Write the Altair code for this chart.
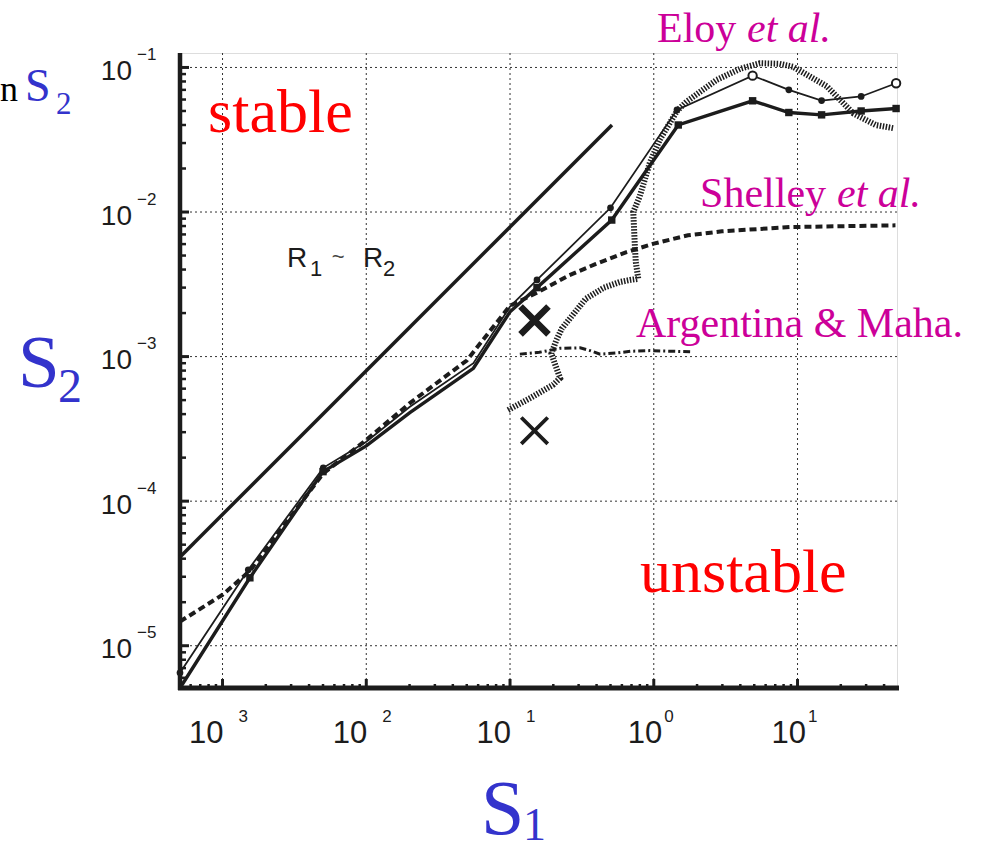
import altair as alt
import pandas as pd

# ---------------- axes / domain ----------------
XMIN, XMAX = 5.06e-4, 49.2
YMIN, YMAX = 5.1e-6, 0.1259
W, H = 717, 635

x_major = [1e-3, 1e-2, 1e-1, 1e0, 1e1]
y_major = [1e-5, 1e-4, 1e-3, 1e-2, 1e-1]
x_minor = [m * 10.0 ** e for e in range(-4, 2) for m in range(2, 10)]
x_minor = [v for v in x_minor if XMIN <= v <= XMAX]
y_minor = [m * 10.0 ** e for e in range(-6, 0) for m in range(2, 10)]
y_minor = [v for v in y_minor if YMIN <= v <= YMAX]

x_lab_base = ["10", "10", "10", "10", "10"]
x_lab_exp = ["3", "2", "1", "0", "1"]
x_lab_neg = [True, True, True, False, False]
y_lab_exp = ["\u22125", "\u22124", "\u22123", "\u22122", "\u22121"]

# ---------------- series ----------------
# R1 ~ R2 reference line
r_x = [5.06e-4, 0.512]
r_y = [4.11e-5, 0.040]

# solid thin line (upper), circles
a_x = [5.06e-4, 1.51e-3, 5.02e-3, 0.01, 0.0201, 0.0556, 0.1, 0.154, 0.5, 1.45, 4.87, 8.7, 14.7, 27.7, 48.5]
a_y = [6.5e-6, 3.35e-5, 1.70e-4, 2.58e-4, 4.5e-4, 9.0e-4, 2.22e-3, 3.39e-3, 0.0107, 0.0509, 0.0878, 0.070, 0.059, 0.063, 0.0778]
a_mark = [1, 1, 1, 0, 0, 0, 0, 1, 1, 1, 2, 1, 1, 1, 2]   # 1 filled, 2 open

# solid thick line (lower), squares
b_x = [5.06e-4, 1.55e-3, 5.0e-3, 0.01, 0.0201, 0.0556, 0.1, 0.154, 0.51, 1.48, 4.87, 8.7, 14.7, 27.7, 48.5]
b_y = [5.1e-6, 2.95e-5, 1.6e-4, 2.41e-4, 4.1e-4, 8.3e-4, 2.04e-3, 3.0e-3, 8.8e-3, 0.040, 0.0588, 0.0488, 0.047, 0.050, 0.052]
b_mark = [0, 1, 1, 0, 0, 0, 0, 1, 1, 1, 1, 1, 1, 1, 1]

# Shelley et al. (dashed)
s_x = [5.06e-4, 1.0e-3, 1.55e-3, 5e-3, 0.01, 0.02, 0.05, 0.1, 0.113, 0.156, 0.256, 0.396, 0.646, 1.0, 1.73, 2.98, 8.87, 48.0]
s_y = [1.47e-5, 2.25e-5, 3.3e-5, 1.55e-4, 2.65e-4, 4.75e-4, 9.4e-4, 2.25e-3, 2.38e-3, 2.79e-3, 3.64e-3, 4.38e-3, 5.28e-3, 6.04e-3, 6.9e-3, 7.35e-3, 7.87e-3, 8.09e-3]

# Eloy et al. (thick dotted), a path ordered along the curve
e_x = [0.0969, 0.14, 0.2, 0.223, 0.206, 0.194, 0.21, 0.229, 0.336, 0.45, 0.58, 0.684, 0.78, 0.75, 0.74, 0.72, 0.8, 0.94, 1.1, 1.45, 1.69, 2.73, 4.0, 5.48, 7.5, 9.35, 16.0, 24.5, 35.0, 46.5]
e_y = [4.27e-4, 5.2e-4, 6.4e-4, 7.1e-4, 8.8e-4, 1.05e-3, 1.3e-3, 1.56e-3, 2.51e-3, 3.0e-3, 3.28e-3, 3.39e-3, 3.45e-3, 4.5e-3, 5.6e-3, 0.01, 0.0129, 0.022, 0.0316, 0.05, 0.058, 0.082, 0.098, 0.107, 0.106, 0.101, 0.074, 0.048, 0.040, 0.038]

# Argentina & Mahadevan (dash-dot)
g_x = [0.117, 0.16, 0.223, 0.307, 0.36, 0.423, 0.55, 0.7, 0.94, 1.3, 1.79]
g_y = [1.04e-3, 1.07e-3, 1.14e-3, 1.15e-3, 1.10e-3, 1.04e-3, 1.06e-3, 1.09e-3, 1.10e-3, 1.09e-3, 1.08e-3]

# crosses
xb_x, xb_y = [0.148], [1.78e-3]
xs_x, xs_y = [0.148], [3.07e-4]

# annotations (data coordinates, left/baseline anchored)
ann_red_text = ["stable", "unstable"]
ann_red_x = [7.93e-4, 0.802]
ann_red_y = [0.0358, 2.353e-5]

ann_mag_text = ["Eloy", "Shelley", "Argentina & Maha."]
ann_mag_x = [1.053, 2.098, 0.752]
ann_mag_y = [0.150, 0.01083, 1.366e-3]
ann_it_text = ["et al.", "et al."]
ann_it_x = [4.455, 18.83]
ann_it_y = [0.150, 0.01083]

rr_big_text = ["R", "R"]
rr_big_x = [2.81e-3, 9.49e-3]
rr_big_y = [4.166e-3, 4.166e-3]
rr_sub_text = ["1", "2"]
rr_sub_x = [4.06e-3, 0.01307]
rr_sub_y = [3.61e-3, 3.61e-3]
rr_tilde_x, rr_tilde_y = [5.75e-3], [4.35e-3]

# ---------------- helpers ----------------
xs = alt.Scale(type="log", domain=[XMIN, XMAX], nice=False)
ys = alt.Scale(type="log", domain=[YMIN, YMAX], nice=False)


def X():
    return alt.X("x:Q", scale=xs, axis=None)


def Y():
    return alt.Y("y:Q", scale=ys, axis=None)


def df_xy(x, y, **extra):
    d = pd.DataFrame({"x": x, "y": y})
    for k, v in extra.items():
        d[k] = v
    d["i"] = range(len(d))
    return d


one = pd.DataFrame({"k": [0]})
INK = "#1c1c1c"
MAG = "#CC0099"
SANS = "Liberation Sans, Arial, Helvetica, sans-serif"
SERIF = "Liberation Serif, Times New Roman, serif"

layers = []

# grid
layers.append(alt.Chart(pd.DataFrame({"x": x_major})).mark_rule(
    color="#333333", strokeWidth=1, strokeDash=[2, 3]).encode(
    x=X(), y=alt.value(0), y2=alt.value(H)))
layers.append(alt.Chart(pd.DataFrame({"y": y_major})).mark_rule(
    color="#333333", strokeWidth=1, strokeDash=[2, 3]).encode(
    y=Y(), x=alt.value(0), x2=alt.value(W + 1)))

# ticks (inward)
layers.append(alt.Chart(pd.DataFrame({"y": y_major})).mark_rule(color=INK, strokeWidth=3).encode(
    y=Y(), x=alt.value(0), x2=alt.value(9)))
layers.append(alt.Chart(pd.DataFrame({"y": y_minor})).mark_rule(color=INK, strokeWidth=2.5).encode(
    y=Y(), x=alt.value(0), x2=alt.value(6)))
layers.append(alt.Chart(pd.DataFrame({"x": x_major})).mark_rule(color=INK, strokeWidth=3).encode(
    x=X(), y=alt.value(H), y2=alt.value(H - 9)))
layers.append(alt.Chart(pd.DataFrame({"x": x_minor})).mark_rule(color=INK, strokeWidth=2.5).encode(
    x=X(), y=alt.value(H), y2=alt.value(H - 4)))

# axis lines
layers.append(alt.Chart(one).mark_rule(color=INK, strokeWidth=4.5).encode(
    x=alt.value(0), y=alt.value(0), y2=alt.value(H + 2)))
layers.append(alt.Chart(one).mark_rule(color=INK, strokeWidth=5).encode(
    y=alt.value(H), x=alt.value(-2), x2=alt.value(W + 2)))

# tick labels
xl = pd.DataFrame({"x": x_major, "b": x_lab_base, "e": x_lab_exp, "neg": x_lab_neg})
for neg, dxa, dxb in [(True, 1, 16), (False, 8.5, 10.5)]:
    sub = xl[xl["neg"] == neg]
    layers.append(alt.Chart(sub).mark_text(
        align="right", baseline="alphabetic", font=SANS, fontSize=31, color=INK, dx=dxa).encode(
        x=X(), y=alt.value(H + 55), text="b:N"))
    layers.append(alt.Chart(sub).mark_text(
        align="left", baseline="alphabetic", font=SANS, fontSize=17, color=INK, dx=dxb).encode(
        x=X(), y=alt.value(H + 34), text="e:N"))

yl = pd.DataFrame({"y": y_major, "b": ["10"] * 5, "e": y_lab_exp})
layers.append(alt.Chart(yl).mark_text(
    align="right", baseline="alphabetic", font=SANS, fontSize=28, color=INK, dy=12.5).encode(
    y=Y(), x=alt.value(-48), text="b:N"))
layers.append(alt.Chart(yl).mark_text(
    align="left", baseline="alphabetic", font=SANS, fontSize=17, color=INK, dy=-7.5).encode(
    y=Y(), x=alt.value(-43), text="e:N"))

# series lines
layers.append(alt.Chart(df_xy(r_x, r_y)).mark_line(color=INK, strokeWidth=3.5, clip=False).encode(
    x=X(), y=Y(), order="i:Q"))
layers.append(alt.Chart(df_xy(s_x, s_y)).mark_line(color=INK, strokeWidth=4, strokeDash=[7, 4], clip=False).encode(
    x=X(), y=Y(), order="i:Q"))
layers.append(alt.Chart(df_xy(e_x, e_y)).mark_line(color="#1e1e1e", strokeWidth=6, strokeDash=[1.5, 1.5], clip=False).encode(
    x=X(), y=Y(), order="i:Q"))
layers.append(alt.Chart(df_xy(g_x, g_y)).mark_line(color=INK, strokeWidth=3, strokeDash=[7, 3, 2, 3], clip=False).encode(
    x=X(), y=Y(), order="i:Q"))
layers.append(alt.Chart(df_xy(a_x, a_y)).mark_line(color=INK, strokeWidth=1.8, clip=False).encode(
    x=X(), y=Y(), order="i:Q"))
layers.append(alt.Chart(df_xy(b_x, b_y)).mark_line(color=INK, strokeWidth=3.4, clip=False).encode(
    x=X(), y=Y(), order="i:Q"))

da = df_xy(a_x, a_y, m=a_mark)
layers.append(alt.Chart(da[da["m"] == 1]).mark_point(
    shape="circle", filled=True, size=45, color=INK, opacity=1, clip=False).encode(x=X(), y=Y()))
layers.append(alt.Chart(da[da["m"] == 2]).mark_point(
    shape="circle", filled=True, size=70, fill="white", stroke=INK, strokeWidth=2, opacity=1, clip=False).encode(x=X(), y=Y()))
db = df_xy(b_x, b_y, m=b_mark)
layers.append(alt.Chart(db[db["m"] == 1]).mark_point(
    shape="square", filled=True, size=55, color=INK, opacity=1, clip=False).encode(x=X(), y=Y()))

XSHAPE = "M-1,-1L1,1M-1,1L1,-1"
layers.append(alt.Chart(df_xy(xb_x, xb_y)).mark_point(
    shape=XSHAPE, size=780, filled=False, strokeWidth=6.5, color=INK, opacity=1).encode(x=X(), y=Y()))
layers.append(alt.Chart(df_xy(xs_x, xs_y)).mark_point(
    shape=XSHAPE, size=700, filled=False, strokeWidth=3.8, color=INK, opacity=1).encode(x=X(), y=Y()))

# annotations inside plot
layers.append(alt.Chart(df_xy(ann_red_x, ann_red_y, t=ann_red_text)).mark_text(
    align="left", baseline="alphabetic", font=SERIF, fontSize=62, color="#FF0000").encode(
    x=X(), y=Y(), text="t:N"))
layers.append(alt.Chart(df_xy(ann_mag_x, ann_mag_y, t=ann_mag_text)).mark_text(
    align="left", baseline="alphabetic", font=SERIF, fontSize=42, color=MAG).encode(
    x=X(), y=Y(), text="t:N"))
layers.append(alt.Chart(df_xy(ann_it_x, ann_it_y, t=ann_it_text)).mark_text(
    align="left", baseline="alphabetic", font=SERIF, fontSize=42, fontStyle="italic", color=MAG).encode(
    x=X(), y=Y(), text="t:N"))
layers.append(alt.Chart(df_xy(rr_big_x, rr_big_y, t=rr_big_text)).mark_text(
    align="left", baseline="alphabetic", font=SANS, fontSize=28, color=INK).encode(
    x=X(), y=Y(), text="t:N"))
layers.append(alt.Chart(df_xy(rr_sub_x, rr_sub_y, t=rr_sub_text)).mark_text(
    align="left", baseline="alphabetic", font=SANS, fontSize=22, color=INK).encode(
    x=X(), y=Y(), text="t:N"))
layers.append(alt.Chart(df_xy(rr_tilde_x, rr_tilde_y, t=["~"])).mark_text(
    align="left", baseline="alphabetic", font=SANS, fontSize=22, color="#444444").encode(
    x=X(), y=Y(), text="t:N"))

# titles outside the plot
BLUE = "#3333CC"


def label(text, px, py, size, color, font=SERIF):
    return alt.Chart(pd.DataFrame({"t": [text]})).mark_text(
        align="left", baseline="alphabetic", font=font, fontSize=size, color=color).encode(
        x=alt.value(px), y=alt.value(py), text="t:N")


layers.append(label("S", -162, 334, 75, BLUE))
layers.append(label("2", -122, 349, 48, BLUE))
layers.append(label("S", 301, 781, 78, BLUE))
layers.append(label("1", 343, 787, 46, BLUE))
layers.append(label("n", -180, 48, 36, "#000000"))
layers.append(label("S", -155, 48, 46, BLUE))
layers.append(label("2", -124, 61, 31, BLUE))

chart = alt.layer(*layers).properties(
    width=W, height=H,
    autosize=alt.AutoSizeParams(type="none"),
    padding={"left": 180, "top": 53, "right": 84, "bottom": 165},
).configure_view(stroke=None).configure(background="white")

chart.save("out.html", embed_options={"renderer": "svg", "actions": False})
